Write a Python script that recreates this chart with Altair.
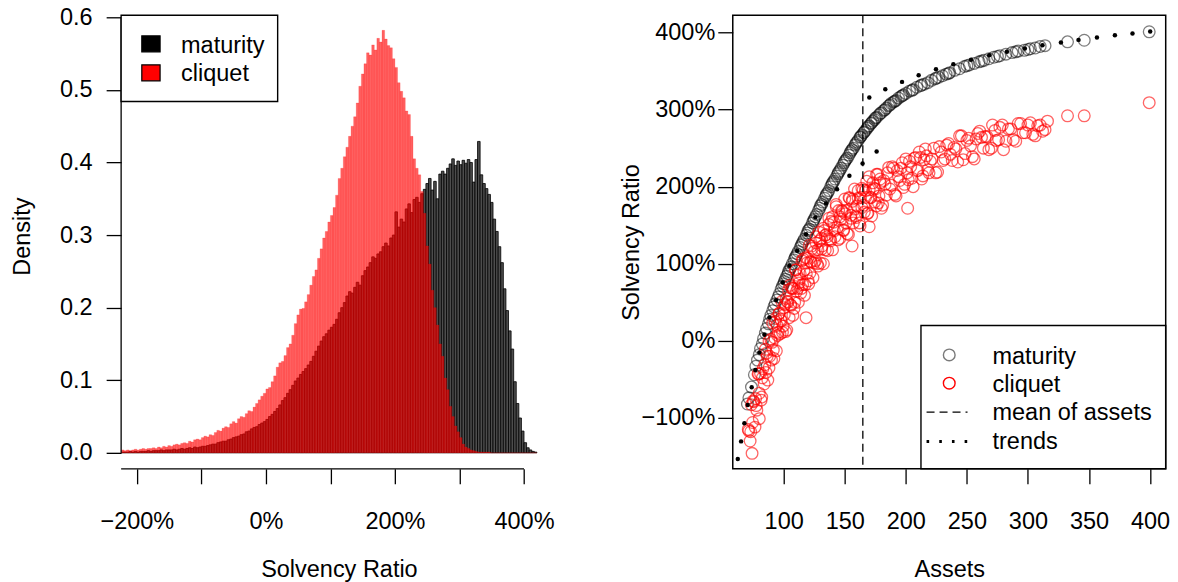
import altair as alt
import pandas as pd

FONT = "Liberation Sans"
FS = 23.5

# ---------------- histogram (left panel) ----------------
bin_start = -224
bin_width = 4
maturity_density = [
    0.001, 0.001, 0.001, 0.002, 0.001, 0.002, 0.001, 0.002, 0.002, 0.002,
    0.003, 0.002, 0.003, 0.003, 0.003, 0.004, 0.003, 0.004, 0.004, 0.004,
    0.005, 0.004, 0.005, 0.006, 0.005, 0.006, 0.007, 0.006, 0.008, 0.007,
    0.008, 0.009, 0.009, 0.010, 0.011, 0.012, 0.012, 0.014, 0.015, 0.016,
    0.016, 0.018, 0.019, 0.021, 0.022, 0.023, 0.025, 0.026, 0.029, 0.030,
    0.033, 0.035, 0.036, 0.039, 0.041, 0.043, 0.046, 0.050, 0.053, 0.057,
    0.061, 0.066, 0.072, 0.076, 0.082, 0.087, 0.093, 0.099, 0.103, 0.108,
    0.112, 0.116, 0.121, 0.126, 0.133, 0.140, 0.147, 0.154, 0.160, 0.164,
    0.169, 0.173, 0.177, 0.184, 0.193, 0.200, 0.207, 0.216, 0.222, 0.220,
    0.228, 0.235, 0.231, 0.244, 0.251, 0.256, 0.262, 0.270, 0.268, 0.274,
    0.277, 0.284, 0.289, 0.285, 0.296, 0.300, 0.332, 0.311, 0.322, 0.318,
    0.336, 0.343, 0.331, 0.349, 0.352, 0.345, 0.357, 0.363, 0.371, 0.378,
    0.362, 0.374, 0.350, 0.384, 0.388, 0.384, 0.392, 0.398, 0.405, 0.396,
    0.402, 0.397, 0.403, 0.399, 0.404, 0.400, 0.373, 0.404, 0.429, 0.383,
    0.371, 0.364, 0.356, 0.345, 0.322, 0.305, 0.284, 0.262, 0.226, 0.196,
    0.168, 0.143, 0.098, 0.068, 0.048, 0.030, 0.014, 0.007, 0.004, 0.002,
    0.001,
]
cliquet_density = [
    0.004, 0.003, 0.004, 0.003, 0.004, 0.005, 0.004, 0.005, 0.006, 0.005,
    0.006, 0.006, 0.007, 0.006, 0.008, 0.007, 0.009, 0.008, 0.010, 0.009,
    0.011, 0.012, 0.011, 0.013, 0.014, 0.013, 0.016, 0.015, 0.018, 0.019,
    0.018, 0.021, 0.023, 0.022, 0.025, 0.024, 0.028, 0.031, 0.030, 0.034,
    0.036, 0.035, 0.040, 0.043, 0.041, 0.047, 0.050, 0.049, 0.054, 0.058,
    0.057, 0.063, 0.068, 0.073, 0.078, 0.082, 0.088, 0.090, 0.098, 0.106,
    0.118, 0.124, 0.126, 0.134, 0.145, 0.150, 0.162, 0.178, 0.190, 0.198,
    0.199, 0.208, 0.218, 0.231, 0.243, 0.252, 0.268, 0.281, 0.296, 0.305,
    0.318, 0.327, 0.338, 0.355, 0.378, 0.392, 0.408, 0.421, 0.436, 0.450,
    0.463, 0.482, 0.505, 0.522, 0.536, 0.551, 0.548, 0.562, 0.555, 0.571,
    0.566, 0.582, 0.570, 0.561, 0.558, 0.543, 0.531, 0.510, 0.498, 0.489,
    0.471, 0.466, 0.436, 0.405, 0.392, 0.383, 0.360, 0.330, 0.285, 0.260,
    0.224, 0.200, 0.176, 0.150, 0.133, 0.103, 0.087, 0.064, 0.050, 0.037,
    0.029, 0.021, 0.012, 0.008, 0.006, 0.004, 0.003, 0.002, 0.001, 0.001,
    0.001, 0.001, 0.001, 0.0, 0.0, 0.0, 0.0, 0.0, 0.0, 0.0,
    0.0, 0.0, 0.0, 0.0, 0.0, 0.0, 0.0, 0.0, 0.0, 0.0,
    0.0,
]
hist_x_ticks = [-200, -100, 0, 100, 200, 300, 400]
hist_y_ticks = [0.0, 0.1, 0.2, 0.3, 0.4, 0.5, 0.6]
hist_legend = ["maturity", "cliquet"]

# ---------------- scatter (right panel) ----------------
maturity_points = [
    (70.3, -82), (71.5, -74), (73.6, -60), (76, -44), (77.2, -33), (78.5, -25), (80, -18), (81, -10),
    (82.5, -4), (83.5, 3), (85, 10), (86, 16), (87.5, 22), (88.5, 28), (89.5, 33), (91, 39), (92, 44),
    (93, 48), (94.5, 53), (95.5, 57), (96.5, 61), (98, 67), (99, 71), (100, 74), (101.5, 80), (102.5, 84),
    (103.5, 87), (105, 93), (106, 96), (107, 100), (108.5, 105), (109.5, 108), (111, 113), (112, 116),
    (113.5, 121), (114.5, 124), (116, 129), (117, 132), (118.5, 137), (119.5, 140), (121, 145), (122, 148),
    (123.5, 153), (124.5, 156), (126, 161), (127, 164), (128.5, 169), (129.5, 172), (131, 177), (132, 180),
    (133.5, 185), (134.5, 188), (136, 192), (137, 195), (138.5, 200), (139.5, 203), (141, 207), (142, 210),
    (143.5, 214), (144.5, 217), (146, 221), (147, 224), (148.5, 228), (149.5, 231), (151, 235), (152, 237),
    (153.5, 241), (154.5, 244), (156, 248), (157, 250), (158.5, 254), (160, 258), (161, 260), (162.5, 264),
    (164, 267), (165.5, 270), (167, 273), (168.5, 276), (170, 279), (171.5, 282), (173, 285), (174.5, 287),
    (176, 290), (178, 293), (180, 296), (182, 299), (184, 302), (186, 305), (188, 308), (190, 310),
    (192, 312), (194, 315), (196, 317), (198, 319), (200, 321), (203, 324), (206, 326), (209, 329),
    (212, 331), (215, 333), (218, 335), (221, 338), (224, 340), (227, 342), (230, 344), (233, 346),
    (236, 348), (240, 351), (244, 353), (248, 356), (252, 358), (256, 360), (260, 362), (264, 364),
    (268, 366), (272, 368), (277, 370), (282, 372), (287, 374), (292, 376), (297, 377), (302, 379),
    (306, 380), (310, 382), (314, 383), (332.4, 388), (346.1, 390), (399.3, 401),
    (100.5, 77), (104, 90), (110, 110), (115, 126), (120, 143), (125, 158), (130, 175), (135, 190),
    (140, 205), (145, 219), (150, 233), (155, 246), (159, 256), (163, 265), (166, 271), (169, 278),
    (172, 283), (175, 289), (179, 295), (183, 300), (187, 306), (191, 311), (197, 318), (205, 325),
    (213, 332), (225, 341), (235, 347), (250, 357), (262, 363), (275, 369), (290, 375), (300, 378),
]
cliquet_points = [
    (71, -115), (72.5, -130), (73.5, -83), (74.5, -106), (75.5, -79), (76.5, -112), (77, -75), (78, -90),
    (79, -43), (80, -68), (81, -42), (81.5, -77), (82.5, -48), (83, -36), (84, -56), (85, -11), (85.5, -41),
    (86.5, -20), (87, -51), (88, 0), (88.5, -20), (89.5, 2), (90, -25), (91, 23), (91.5, -12), (92.5, 4),
    (93, 25), (94, -13), (94.5, 20), (95.5, 11), (96, 35), (97, 9), (97.5, 28), (98.5, 51), (99, 11),
    (100, 43), (100.5, 34), (101.5, 12), (102, 55), (103, 51), (103.5, 50), (104.5, 30), (105, 72),
    (106, 46), (106.5, 69), (107.5, 33), (108, 68), (109, 50), (109.5, 92), (110.5, 64), (111, 85),
    (112, 50), (112.5, 75), (113.5, 87), (114, 62), (115, 104), (115.5, 73), (116.5, 91), (117, 59),
    (118, 108), (118.5, 87), (119.5, 107), (120, 78), (121, 124), (121.5, 88), (122.5, 102), (123, 123),
    (124, 82), (125, 116), (126, 104), (126.5, 127), (127.5, 100), (128, 118), (129, 141), (130, 101),
    (131, 133), (131.5, 123), (132.5, 100), (133, 143), (134, 137), (135, 138), (136, 117), (137, 159),
    (138, 132), (139, 155), (140, 118), (141, 154), (142, 135), (143, 177), (144, 147), (145, 169),
    (146, 133), (147, 158), (148, 168), (149, 144), (150, 184), (151, 153), (152, 169), (153, 138),
    (154, 185), (155, 163), (156, 181), (157, 153), (158, 197), (159, 162), (160, 175), (161, 195),
    (162, 153), (163, 186), (164, 173), (165, 196), (166, 167), (167, 186), (168, 207), (169, 166),
    (170, 196), (171, 186), (172, 162), (173, 205), (174, 198), (175, 197), (176, 175), (177, 216),
    (178, 188), (179, 210), (180, 172), (182, 208), (184, 189), (186, 225), (188, 202), (190, 224),
    (192, 188), (194, 213), (196, 224), (198, 199), (200, 236), (202, 209), (204, 226), (206, 200),
    (208, 238), (210, 221), (212, 238), (214, 214), (216, 249), (218, 222), (220, 233), (223, 250),
    (226, 219), (229, 245), (232, 236), (235, 256), (238, 234), (241, 249), (244, 266), (247, 235),
    (250, 260), (253, 253), (256, 236), (259, 269), (262, 264), (265, 265), (268, 248), (271, 280),
    (274, 260), (277, 277), (280, 248), (284, 275), (288, 261), (292, 282), (296, 270), (300, 280),
    (304, 268), (308, 279), (312, 272), (316, 285),
    (156, 123), (170, 148), (118.3, 30), (201.5, 172), (332.4, 292), (346.1, 292), (399.3, 309),
    (74.1, -146), (71.4, -117), (80, -101),
    (73, -118), (75, -78), (77.5, -84), (79.5, -43), (82, -73), (84.5, -31), (86, -16), (88, -35),
    (90.5, -2), (92, -23), (93.5, 29), (95, 7), (96.5, 36), (98, 26), (99.5, 19), (101, 47),
    (102.5, 14), (104, 66), (105.5, 47), (107, 68), (108.5, 42), (110, 92), (111.5, 68), (113, 80),
    (114.5, 68), (116, 106), (117.5, 73), (119, 101), (120.5, 74), (122, 103), (123.5, 120), (125, 101),
    (126.5, 135), (128, 97), (129.5, 130), (131, 119), (132.5, 146), (134, 118), (135.5, 135), (137, 151),
    (138.5, 130), (140, 161), (141.5, 143), (143, 174), (144.5, 131), (146, 161), (147.5, 169), (149, 143),
    (150.5, 165), (152, 139), (153.5, 186), (155, 159), (156.5, 184), (158, 171), (159.5, 160), (161, 185),
    (162.5, 149), (164, 198), (165.5, 176), (167, 195), (168.5, 165), (170, 213), (171.5, 186), (173, 196),
    (174.5, 180), (176, 216), (177.5, 179), (179, 205), (181, 176), (183, 203), (185, 218), (187, 197),
    (189, 226), (191, 190), (193, 221), (195, 208), (197, 231), (199, 203), (201, 218), (203, 233),
    (205, 211), (207, 237), (209, 221), (211, 245), (213, 210), (215, 235), (217, 240), (219, 218),
    (221.5, 236), (224.5, 218), (227.5, 252), (230.5, 234), (233.5, 254), (236.5, 242), (239.5, 251),
    (242.5, 232), (245.5, 266), (248.5, 243), (251.5, 263), (254.5, 239), (257.5, 262), (260.5, 272),
    (263.5, 250), (266.5, 265), (270, 250), (273, 273), (276, 261), (279, 280), (282, 259), (286, 275),
    (290, 259), (294, 282), (298, 270), (302, 283), (306, 266), (310, 280), (314, 274),
]
trend_points = [
    (62.4, -153.4), (65.1, -130.5), (67.8, -107.1), (70.5, -83.4), (73.8, -60.4), (76.8, -38),
    (80.1, -15), (84.2, 7.9), (88.3, 30.3), (93.8, 52.8), (99.2, 75.7), (104.7, 97.4), (111, 116.9),
    (118.3, 138.4), (125.9, 160), (134.7, 178.2), (143.7, 196.8), (153.8, 214.1), (164.6, 230.1),
    (176.1, 245.7), (170.1, 315.7), (183.2, 326.5), (196.9, 336), (210.5, 344.6), (224.7, 352.4),
    (238.9, 358.9), (253.4, 364.6), (268.3, 370.6), (282.8, 375), (297.5, 379.3), (311.9, 383.6),
    (327, 387), (341.4, 390.5), (356.5, 393.5), (371.2, 396.5), (385.6, 398.7), (400.1, 401.3),
]
mean_of_assets = 164.8
scatter_x_ticks = [100, 150, 200, 250, 300, 350, 400]
scatter_y_ticks = [-100, 0, 100, 200, 300, 400]
scatter_legend = ["maturity", "cliquet", "mean of assets", "trends"]

# ---------------- tables ----------------
n_bins = len(maturity_density)
bin_lo = [bin_start + bin_width * i for i in range(n_bins)]
hist = pd.DataFrame({
    "lo": bin_lo,
    "hi": [b + bin_width for b in bin_lo],
    "maturity": maturity_density,
    "cliquet": cliquet_density,
})
mat_df = pd.DataFrame(maturity_points, columns=["assets", "ratio"])
cli_df = pd.DataFrame(cliquet_points, columns=["assets", "ratio"])
trend_df = pd.DataFrame(trend_points, columns=["assets", "ratio"])
one = pd.DataFrame({"k": [0]})

# ---------------- helpers ----------------
def rect(x0, x1, y0, y1, **kw):
    return alt.Chart(one).mark_rect(**kw).encode(
        x=alt.value(x0), x2=alt.value(x1), y=alt.value(y0), y2=alt.value(y1))


def label(txt, x, y):
    return alt.Chart(one).mark_text(
        text=txt, font=FONT, fontSize=FS, align="left", baseline="alphabetic", color="black"
    ).encode(x=alt.value(x), y=alt.value(y))


# ---------------- left panel ----------------
LW, LH = 436, 454
xh = alt.Scale(domain=[-224.3, 450.6], nice=False, zero=False)
yh = alt.Scale(domain=[-0.0220, 0.60275], nice=False, zero=False)
x_axis_h = alt.Axis(
    values=hist_x_ticks, labelExpr="datum.value % 200 == 0 ? datum.label + '%' : ''",
    tickSize=15, labelPadding=38, labelBaseline="middle", domain=False, grid=False,
    title="Solvency Ratio", titleY=101.3, titleBaseline="middle",
    labelFlush=False, labelOverlap=False)
y_axis_h = alt.Axis(
    values=hist_y_ticks, format=".1f", tickSize=15, labelPadding=14, domain=False, grid=False,
    title="Density", titleX=-99, titleY=221, titleAngle=270, titleBaseline="middle",
    titleAlign="center", labelOverlap=False, labelFlush=False)

black_bars = alt.Chart(hist).mark_rect(fill="#4d4d4d", stroke="black", strokeWidth=0.8).encode(
    x=alt.X("lo:Q", scale=xh, axis=x_axis_h), x2="hi:Q",
    y=alt.Y("maturity:Q", scale=yh, axis=y_axis_h), y2=alt.datum(0))
red_bars = alt.Chart(hist).mark_rect(
    fill="#ff0000", fillOpacity=0.62, stroke="#ff0000", strokeOpacity=0.3, strokeWidth=0.6
).encode(
    x=alt.X("lo:Q", scale=xh, axis=x_axis_h), x2="hi:Q",
    y=alt.Y("cliquet:Q", scale=yh, axis=y_axis_h), y2=alt.datum(0))
y_line = alt.Chart(one).mark_rule(color="black", strokeWidth=1.3).encode(
    x=alt.value(0), y=alt.Y(datum=0, scale=yh, axis=y_axis_h), y2=alt.datum(0.6))
x_line = alt.Chart(one).mark_rule(color="black", strokeWidth=1.3).encode(
    x=alt.X(datum=-224.3, scale=xh, axis=x_axis_h), x2=alt.datum(400), y=alt.value(LH))

left = alt.layer(
    black_bars, red_bars, y_line, x_line,
    rect(0, 156.7, 0, 86.3, fill="white", stroke="black", strokeWidth=1.4),
    rect(20.7, 39, 20.6, 36.6, fill="black", stroke="black", strokeWidth=1.2),
    rect(20.7, 39, 49.6, 65.6, fill="#ff0000", stroke="black", strokeWidth=1.2),
    label(hist_legend[0], 60, 37.3),
    label(hist_legend[1], 60, 65.6),
).properties(width=LW, height=LH)

# ---------------- right panel ----------------
RW, RH = 433.4, 454
xs = alt.Scale(domain=[58.3, 412.8], nice=False, zero=False)
ys = alt.Scale(domain=[-166.1, 422.4], nice=False, zero=False)
x_axis_s = alt.Axis(
    values=scatter_x_ticks, format="d", tickSize=15, labelPadding=38, labelBaseline="middle",
    domain=False, grid=False, title="Assets", titleY=101.3, titleBaseline="middle",
    labelFlush=False, labelOverlap=False)
y_axis_s = alt.Axis(
    values=scatter_y_ticks, format="d", labelExpr="datum.label + '%'", tickSize=15, labelPadding=3,
    domain=False, grid=False, title="Solvency Ratio", titleX=-101.3, titleY=227, titleAngle=270,
    titleBaseline="middle", titleAlign="center", labelOverlap=False, labelFlush=False)


def scatter(df, **kw):
    return alt.Chart(df).mark_point(**kw).encode(
        x=alt.X("assets:Q", scale=xs, axis=x_axis_s),
        y=alt.Y("ratio:Q", scale=ys, axis=y_axis_s))


mat_layer = scatter(mat_df, shape="circle", filled=False, size=137, strokeWidth=1.3,
                    color="black", opacity=0.5)
cli_layer = scatter(cli_df, shape="circle", filled=False, size=137, strokeWidth=1.3,
                    color="#ff0000", opacity=0.6)
trend_layer = scatter(trend_df, shape="circle", filled=True, size=20, color="black", opacity=1)
mean_line = alt.Chart(one).mark_rule(color="black", strokeWidth=1.3, strokeDash=[8, 5]).encode(
    x=alt.X(datum=mean_of_assets, scale=xs, axis=x_axis_s), y=alt.value(0), y2=alt.value(RH))


def legend_circle(x, y, color):
    return alt.Chart(one).mark_point(shape="circle", filled=False, size=137, strokeWidth=1.4,
                                     color=color, opacity=1).encode(x=alt.value(x), y=alt.value(y))


right = alt.layer(
    mat_layer, cli_layer, mean_line, trend_layer,
    rect(188.4, RW, 310.6, RH, fill="white", stroke="black", strokeWidth=1.4),
    legend_circle(216.7, 340, "#7a7a7a"),
    legend_circle(216.7, 368.3, "#ff0000"),
    alt.Chart(one).mark_rule(color="black", strokeWidth=1.3, strokeDash=[8, 5]).encode(
        x=alt.value(194), x2=alt.value(235), y=alt.value(397.3)),
    alt.Chart(one).mark_rule(color="black", strokeWidth=3, strokeDash=[2.6, 10.1], strokeCap="butt").encode(
        x=alt.value(194), x2=alt.value(236), y=alt.value(426.6)),
    label(scatter_legend[0], 260, 349),
    label(scatter_legend[1], 260, 377.3),
    label(scatter_legend[2], 260, 405.6),
    label(scatter_legend[3], 260, 434.6),
    rect(0, RW, 0, RH, fillOpacity=0, stroke="black", strokeWidth=1.5),
).properties(width=RW, height=RH)

chart = alt.hconcat(left, right, spacing=176.3, bounds="flush").properties(
    padding={"left": 2.25, "top": -4, "right": 0, "bottom": 0}
).configure(font=FONT).configure_view(stroke=None).configure_axis(
    labelFont=FONT, titleFont=FONT, labelFontSize=FS, titleFontSize=FS,
    titleFontWeight="normal", labelColor="black", titleColor="black",
    tickColor="black", tickWidth=1.3,
)

chart.save("out.html", embed_options={"renderer": "svg", "actions": False})
